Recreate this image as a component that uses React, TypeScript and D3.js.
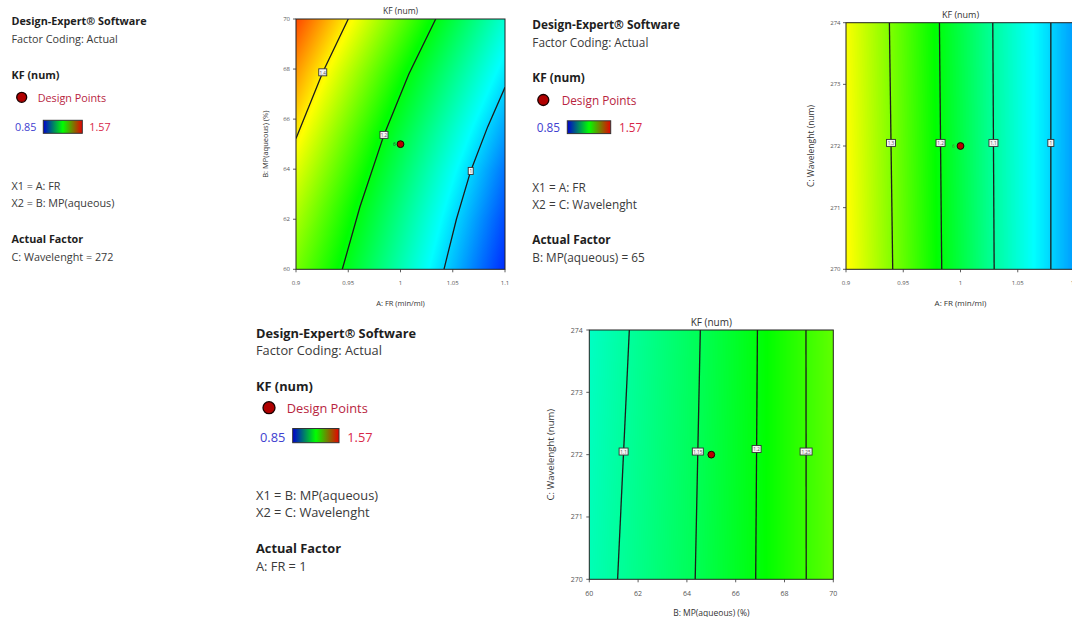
import React, { useMemo } from 'react';
import * as d3 from 'd3';

const W = 1072;
const H = 617;
const FONT = '"Open Sans", "Noto Sans", sans-serif';

// colour map of the response (KF)
const colorLevels = [0.85, 1.03, 1.21, 1.39, 1.57];
const colorStops = ['#0000ff', '#00ffff', '#00ff00', '#ffff00', '#ff0000'];
const legendMinLabel = '0.85';
const legendMaxLabel = '1.57';

// ---------- Plot 1 : A: FR vs B: MP(aqueous), C = 272 ----------
const p1XTicks = [0.9, 0.95, 1, 1.05, 1.1];
const p1YTicks = [60, 62, 64, 66, 68, 70];
const p1Levels = [1.4, 1.2, 1.0];
const p1LevelLabels = ['1.4', '1.2', '1'];
const p1Contour14 = [[0.9, 65.23], [0.9256, 67.87], [0.95, 70]];
const p1Contour12 = [[0.9443, 60], [0.9612, 62.5], [0.9842, 65.37], [1.008, 67.8], [1.0337, 70]];
const p1Contour10 = [[1.0416, 60], [1.0535, 62.0], [1.0672, 63.93], [1.0835, 65.7], [1.1, 67.27]];
const p1LabelPts = [[0.9256, 67.87], [0.9842, 65.37], [1.0672, 63.93]];
const p1DesignPoint = [1, 65];

// ---------- Plot 2 : A: FR vs C: Wavelenght, B = 65 ----------
const p2XTicks = [0.9, 0.95, 1, 1.05, 1.1];
const p2YTicks = [270, 271, 272, 273, 274];
const p2Levels = [1.3, 1.2, 1.1, 1.0];
const p2LevelLabels = ['1.3', '1.2', '1.1', '1'];
const p2Contour13 = [[0.9408, 270], [0.9379, 274]];
const p2Contour12 = [[0.9836, 270], [0.9816, 274]];
const p2Contour11 = [[1.0294, 270], [1.0282, 274]];
const p2Contour10 = [[1.0789, 270], [1.0789, 274]];
const p2LabelY = [272.05, 272.05, 272.05, 272.05];
const p2DesignPoint = [1, 272];

// ---------- Plot 3 : B: MP(aqueous) vs C: Wavelenght, A = 1 ----------
const p3XTicks = [60, 62, 64, 66, 68, 70];
const p3YTicks = [270, 271, 272, 273, 274];
const p3Levels = [1.1, 1.15, 1.2, 1.25];
const p3LevelLabels = ['1.1', '1.15', '1.2', '1.25'];
const p3Contour110 = [[61.16, 270], [61.64, 274]];
const p3Contour115 = [[64.34, 270], [64.55, 274]];
const p3Contour120 = [[66.82, 270], [66.89, 274]];
const p3Contour125 = [[68.89, 270], [68.88, 274]];
const p3LabelY = [272.05, 272.05, 272.09, 272.05];
const p3DesignPoint = [65, 272];

type Pt = number[];

// x of a contour polyline at height y (extended beyond its ends along the end segments)
function crossX(pts: Pt[], y: number): number {
  const n = pts.length;
  let i = 0;
  if (y <= pts[0][1]) i = 0;
  else if (y >= pts[n - 1][1]) i = n - 2;
  else {
    while (i < n - 2 && y > pts[i + 1][1]) i++;
  }
  const a = pts[i], b = pts[i + 1];
  const t = (y - a[1]) / (b[1] - a[1] || 1);
  return a[0] + t * (b[0] - a[0]);
}

const colorScale = d3
  .scaleLinear<string>()
  .domain(colorLevels)
  .range(colorStops)
  .interpolate(d3.interpolateRgb)
  .clamp(true);

function makeField(box: any, xDom: number[], yDom: number[], contours: Pt[][], levels: number[]) {
  const w = Math.round(box.x1 - box.x0);
  const h = Math.round(box.y1 - box.y0);
  const canvas = document.createElement('canvas');
  canvas.width = w;
  canvas.height = h;
  const ctx = canvas.getContext('2d');
  if (!ctx) return '';
  const img = ctx.createImageData(w, h);
  const xs = d3.scaleLinear().domain([0, w]).range(xDom);
  const ys = d3.scaleLinear().domain([0, h]).range([yDom[1], yDom[0]]);
  const lo = colorLevels[0];
  const hi = colorLevels[colorLevels.length - 1];
  const lut = d3.range(512).map((i) => d3.rgb(colorScale(lo + ((hi - lo) * i) / 511)));
  for (let j = 0; j < h; j++) {
    const y = ys(j + 0.5);
    const cr: number[][] = contours.map((pts, k) => [crossX(pts, y), levels[k]]);
    cr.sort((a, b) => a[0] - b[0]);
    for (let i = 0; i < w; i++) {
      const x = xs(i + 0.5);
      let k = 0;
      while (k < cr.length - 2 && x > cr[k + 1][0]) k++;
      const [xa, va] = cr[k];
      const [xb, vb] = cr[k + 1];
      const v = va + ((x - xa) * (vb - va)) / (xb - xa);
      const t = Math.max(0, Math.min(511, Math.round(((v - lo) / (hi - lo)) * 511)));
      const c = lut[t];
      const o = (j * w + i) * 4;
      img.data[o] = c.r;
      img.data[o + 1] = c.g;
      img.data[o + 2] = c.b;
      img.data[o + 3] = 255;
    }
  }
  ctx.putImageData(img, 0, 0);
  return canvas.toDataURL();
}

interface PlotProps {
  id: string;
  box: { x0: number; x1: number; y0: number; y1: number };
  xDom: number[];
  yDom: number[];
  xTicks: number[];
  yTicks: number[];
  contours: Pt[][];
  levels: number[];
  levelLabels: string[];
  labelPts: Pt[];
  labelW: number[];
  point: number[];
  title: string;
  xTitle: string;
  yTitle: string;
  tickFont: number;
  axisFont: number;
  yAxisFont: number;
  titleFont: number;
  yTitleX: number;
  yTickOff: number;
  six?: { dx: number; color: string };
}

function Plot(p: PlotProps) {
  const { box } = p;
  const xS = d3.scaleLinear().domain(p.xDom).range([box.x0, box.x1]);
  const yS = d3.scaleLinear().domain(p.yDom).range([box.y1, box.y0]);
  const url = useMemo(() => makeField(box, p.xDom, p.yDom, p.contours, p.levels), [p.id]);
  const line = d3
    .line<Pt>()
    .x((d) => xS(d[0]))
    .y((d) => yS(d[1]));
  const cx = (box.x0 + box.x1) / 2;
  const cy = (box.y0 + box.y1) / 2;
  return (
    <g fontFamily={FONT}>
      <defs>
        <clipPath id={'clip-' + p.id}>
          <rect x={box.x0} y={box.y0} width={box.x1 - box.x0} height={box.y1 - box.y0} />
        </clipPath>
      </defs>
      <image
        href={url}
        x={box.x0}
        y={box.y0}
        width={box.x1 - box.x0}
        height={box.y1 - box.y0}
        preserveAspectRatio="none"
      />
      <g clipPath={`url(#clip-${p.id})`}>
        {p.contours.map((c, i) => (
          <path key={i} d={line(c) || ''} fill="none" stroke="#1c1c1c" strokeWidth={1.3} />
        ))}
      </g>
      {p.labelPts.map((lp, i) => {
        const x = xS(lp[0]);
        const y = yS(lp[1]);
        const w = p.labelW[i];
        return (
          <g key={i}>
            <rect x={x - w / 2} y={y - 3.5} width={w} height={7} fill="#f4f4f4" stroke="#333" strokeWidth={0.9} />
            <text x={x} y={y + 0.3} fontSize={4.6} textAnchor="middle" dominantBaseline="central" fill="#555">
              {p.levelLabels[i]}
            </text>
          </g>
        );
      })}
      {p.six && (
        <text
          x={xS(p.point[0]) + p.six.dx}
          y={yS(p.point[1])}
          fontSize={4.5}
          textAnchor="middle"
          dominantBaseline="central"
          fill={p.six.color}
        >
          6
        </text>
      )}
      <circle cx={xS(p.point[0])} cy={yS(p.point[1])} r={3.4} fill="#b80000" stroke="#1a0000" strokeWidth={1} />
      <rect
        x={box.x0}
        y={box.y0}
        width={box.x1 - box.x0}
        height={box.y1 - box.y0}
        fill="none"
        stroke="#222"
        strokeWidth={1}
      />
      {p.xTicks.map((t) => (
        <g key={'x' + t}>
          <line x1={xS(t)} x2={xS(t)} y1={box.y1} y2={box.y1 + 3} stroke="#333" strokeWidth={0.8} />
          <text
            x={xS(t)}
            y={box.y1 + 14}
            fontSize={p.tickFont}
            textAnchor="middle"
            dominantBaseline="central"
            fill="#555"
          >
            {String(t)}
          </text>
        </g>
      ))}
      {p.yTicks.map((t) => (
        <g key={'y' + t}>
          <line x1={box.x0 - 3} x2={box.x0} y1={yS(t)} y2={yS(t)} stroke="#333" strokeWidth={0.8} />
          <text
            x={box.x0 - p.yTickOff}
            y={yS(t)}
            fontSize={p.tickFont}
            textAnchor="end"
            dominantBaseline="central"
            fill="#555"
          >
            {String(t)}
          </text>
        </g>
      ))}
      <text x={cx} y={box.y0 - 8.5} fontSize={p.titleFont} textAnchor="middle" dominantBaseline="central" fill="#333">
        {p.title}
      </text>
      <text x={cx} y={box.y1 + 33.5} fontSize={p.axisFont} textAnchor="middle" dominantBaseline="central" fill="#333">
        {p.xTitle}
      </text>
      <text
        transform={`translate(${p.yTitleX},${cy}) rotate(-90)`}
        fontSize={p.yAxisFont}
        textAnchor="middle"
        dominantBaseline="central"
        fill="#333"
      >
        {p.yTitle}
      </text>
    </g>
  );
}

interface InfoProps {
  id: string;
  x: number;
  fs: number;
  ys: number[]; // DE, FC, KF, DP, legend, X1, X2, AF, value
  circle: number[]; // cx, cy, r
  dpX: number;
  minX: number;
  bar: number[]; // x, y, w, h
  maxX: number;
  x1: string;
  x2: string;
  actual: string;
}

function Info(p: InfoProps) {
  const [yDE, yFC, yKF, yDP, yLeg, yX1, yX2, yAF, yVal] = p.ys;
  const dark = '#1e1e1e';
  const reg = '#3a3a3a';
  return (
    <g fontFamily={FONT} fontSize={p.fs}>
      <defs>
        <linearGradient id={'grad-' + p.id} x1="0" x2="1" y1="0" y2="0">
          <stop offset="0%" stopColor="#0000d0" />
          <stop offset="50%" stopColor="#00ff00" />
          <stop offset="100%" stopColor="#e80000" />
        </linearGradient>
      </defs>
      <text x={p.x} y={yDE} fontWeight="bold" fill={dark} dominantBaseline="central">
        Design-Expert® Software
      </text>
      <text x={p.x} y={yFC} fill={reg} dominantBaseline="central">
        Factor Coding: Actual
      </text>
      <text x={p.x} y={yKF} fontWeight="bold" fill={dark} dominantBaseline="central">
        KF (num)
      </text>
      <circle cx={p.circle[0]} cy={p.circle[1]} r={p.circle[2]} fill="#b00000" stroke="#1a0000" strokeWidth={1.3} />
      <text x={p.dpX} y={yDP} fill="#b8243e" dominantBaseline="central">
        Design Points
      </text>
      <text x={p.minX} y={yLeg} fill="#4040d0" dominantBaseline="central">
        {legendMinLabel}
      </text>
      <rect
        x={p.bar[0]}
        y={p.bar[1]}
        width={p.bar[2]}
        height={p.bar[3]}
        fill={`url(#grad-${p.id})`}
        stroke="#333"
        strokeWidth={1}
      />
      <text x={p.maxX} y={yLeg} fill="#d82848" dominantBaseline="central">
        {legendMaxLabel}
      </text>
      <text x={p.x} y={yX1} fill={reg} dominantBaseline="central">
        {p.x1}
      </text>
      <text x={p.x} y={yX2} fill={reg} dominantBaseline="central">
        {p.x2}
      </text>
      <text x={p.x} y={yAF} fontWeight="bold" fill={dark} dominantBaseline="central">
        Actual Factor
      </text>
      <text x={p.x} y={yVal} fill={reg} dominantBaseline="central">
        {p.actual}
      </text>
    </g>
  );
}

export default function App() {
  return (
    <svg
      width={W}
      height={H}
      viewBox={`0 0 ${W} ${H}`}
      style={{ position: 'absolute', left: 0, top: 0, background: '#fff' }}
    >
      <rect x={0} y={0} width={W} height={H} fill="#fff" />
      <Info
        id="i1"
        x={11.5}
        fs={10.8}
        ys={[20.7, 38.8, 74, 97.3, 126.7, 185.5, 202.5, 238.7, 256]}
        circle={[21.7, 97.3, 5]}
        dpX={37.7}
        minX={15}
        bar={[43.3, 120.3, 39, 13]}
        maxX={89.3}
        x1="X1 = A: FR"
        x2="X2 = B: MP(aqueous)"
        actual="C: Wavelenght = 272"
      />
      <Info
        id="i2"
        x={532.3}
        fs={11.8}
        ys={[24, 42.3, 77.3, 100, 127.3, 186.5, 203.5, 238.7, 256.5]}
        circle={[543.3, 100, 5.5]}
        dpX={561.7}
        minX={536.7}
        bar={[567.3, 120.8, 43.4, 12.8]}
        maxX={619}
        x1="X1 = A: FR"
        x2="X2 = C: Wavelenght"
        actual="B: MP(aqueous) = 65"
      />
      <Info
        id="i3"
        x={256}
        fs={12.8}
        ys={[332.7, 350.3, 385.7, 407.7, 436.7, 495, 512.3, 548, 566]}
        circle={[269, 407.7, 6]}
        dpX={286.7}
        minX={260}
        bar={[292.7, 428.5, 46.3, 14.2]}
        maxX={347.3}
        x1="X1 = B: MP(aqueous)"
        x2="X2 = C: Wavelenght"
        actual="A: FR = 1"
      />
      <Plot
        id="p1"
        box={{ x0: 296, x1: 505, y0: 19, y1: 269.3 }}
        xDom={[0.9, 1.1]}
        yDom={[60, 70]}
        xTicks={p1XTicks}
        yTicks={p1YTicks}
        contours={[p1Contour14, p1Contour12, p1Contour10]}
        levels={p1Levels}
        levelLabels={p1LevelLabels}
        labelPts={p1LabelPts}
        labelW={[8, 8, 5]}
        point={p1DesignPoint}
        title="KF (num)"
        xTitle="A: FR (min/ml)"
        yTitle="B: MP(aqueous) (%)"
        tickFont={6}
        axisFont={7.5}
        yAxisFont={7.5}
        titleFont={8.5}
        yTitleX={265}
        yTickOff={6}
        six={{ dx: -6, color: '#333' }}
      />
      <Plot
        id="p2"
        box={{ x0: 846, x1: 1075, y0: 22.7, y1: 269.3 }}
        xDom={[0.9, 1.1]}
        yDom={[270, 274]}
        xTicks={p2XTicks}
        yTicks={p2YTicks}
        contours={[p2Contour13, p2Contour12, p2Contour11, p2Contour10]}
        levels={p2Levels}
        levelLabels={p2LevelLabels}
        labelPts={[p2Contour13, p2Contour12, p2Contour11, p2Contour10].map((c, i) => [
          crossX(c, p2LabelY[i]),
          p2LabelY[i],
        ])}
        labelW={[9, 9, 9, 6]}
        point={p2DesignPoint}
        title="KF (num)"
        xTitle="A: FR (min/ml)"
        yTitle="C: Wavelenght (num)"
        tickFont={6}
        axisFont={8}
        yAxisFont={8.5}
        titleFont={9}
        yTitleX={810}
        yTickOff={5.5}
        six={{ dx: -7, color: '#4a8a30' }}
      />
      <Plot
        id="p3"
        box={{ x0: 589.3, x1: 833.3, y0: 330, y1: 579.3 }}
        xDom={[60, 70]}
        yDom={[270, 274]}
        xTicks={p3XTicks}
        yTicks={p3YTicks}
        contours={[p3Contour110, p3Contour115, p3Contour120, p3Contour125]}
        levels={p3Levels}
        levelLabels={p3LevelLabels}
        labelPts={[p3Contour110, p3Contour115, p3Contour120, p3Contour125].map((c, i) => [
          crossX(c, p3LabelY[i]),
          p3LabelY[i],
        ])}
        labelW={[9, 11, 9, 12]}
        point={p3DesignPoint}
        title="KF (num)"
        xTitle="B: MP(aqueous) (%)"
        yTitle="C: Wavelenght (num)"
        tickFont={7}
        axisFont={8.5}
        yAxisFont={9.5}
        titleFont={10}
        yTitleX={550}
        yTickOff={6.5}
      />
    </svg>
  );
}
